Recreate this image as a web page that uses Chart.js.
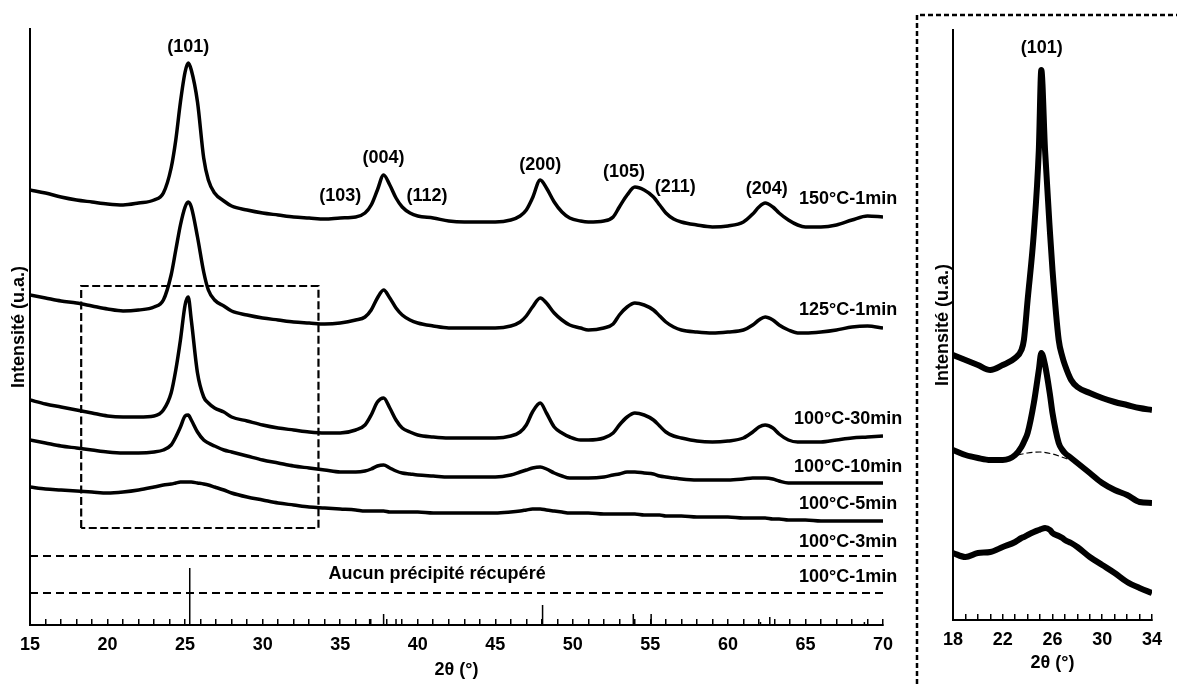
<!DOCTYPE html>
<html>
<head>
<meta charset="utf-8">
<script src="https://cdn.jsdelivr.net/npm/chart.js@4.4.1/dist/chart.umd.min.js"></script>
<style>
  body { margin: 0; background: #fff; }
  #wrap { position: relative; width: 1177px; height: 684px; overflow: hidden; }
  #mainChart { position: absolute; left: 0; top: 0; }
  #zoomChart { position: absolute; left: 912px; top: 0; }
</style>
</head>
<body>
<div id="wrap">
  <canvas id="mainChart" width="910" height="684"></canvas>
  <canvas id="zoomChart" width="265" height="684"></canvas>
</div>
<script>
// 2theta grid (degrees) shared by the main patterns
const twoTheta = [15,16,17,18,19,20,21,22,23,
  23.6,24.1,24.4,24.7,25.0,25.2,25.4,25.8,26.2,26.5,26.9,27.5,
  28,29,30,31,32,33,34,35,36,
  36.6,37.0,37.4,37.8,38.2,38.6,39.0,39.5,
  40,41,42,43,44,45,46,
  46.6,47.0,47.4,47.9,48.3,48.8,49.3,49.8,50.5,
  51,52,
  52.6,53.0,53.5,54.0,54.6,55.2,55.6,
  56,56.5,57,
  58,59,60,61,
  61.6,62.0,62.4,62.9,63.3,63.9,64.5,
  65,66,67,68,69,70];

// intensities (a.u., offset for stacking)
const i150_1 = [435,432,428,425,423,421,420,422,425,
  432,457,485,523,553,562,555,523,467,445,432,424,
  419,415,412,410,408,407,406,407,408,
  412,420,435,450,440,427,418,412,
  409,407,404,403,403,403,405,
  409,415,427,445,437,423,413,407,404,
  403,404,
  408,418,430,438,435,428,420,
  412,406,403,
  400,398,399,403,
  411,418,422,418,412,405,400,
  398,398,400,405,409,408];
const i125_1 = [330,327,324,322,319,316,314,315,318,
  325,350,375,400,418,423,418,388,353,335,325,319,
  314,310,307,305,303,302,301,302,305,
  308,315,327,335,327,317,310,305,
  302,299,297,297,297,297,299,
  303,309,318,327,322,312,305,300,297,
  295,297,
  301,310,318,322,320,315,309,
  303,298,295,
  293,292,293,295,
  300,305,308,305,300,295,292,
  292,293,295,298,299,297];
const i100_30 = [225,221,218,215,212,209,208,208,209,
  215,232,255,285,320,328,305,252,228,222,217,213,
  208,204,200,197,195,193,192,192,195,
  200,210,223,227,217,205,197,193,
  190,188,187,187,187,187,189,
  193,200,213,222,212,198,192,188,185,
  185,187,
  192,200,208,212,210,205,199,
  193,189,187,
  184,183,184,187,
  193,198,200,197,191,185,183,
  183,183,185,187,188,189];
const i100_10 = [185,182,179,177,175,173,172,172,173,
  175,180,188,198,209,210,205,193,185,182,179,175,
  173,169,165,162,159,157,155,153,153,
  154,156,159,160,157,154,152,151,
  150,149,148,148,148,148,150,
  153,155,157,158,156,152,149,147,147,
  147,148,
  150,151,153,153,152,151,149,
  148,147,146,
  145,145,145,146,
  147,147,147,146,144,142,142,
  142,142,142,142,142,142];
const i100_5 = [138,136,135,134,133,132,133,135,138,
  140,141,142,143,143,143,143,142,141,140,138,135,
  132,128,125,122,120,118,117,116,115,
  114,114,114,114,113,113,113,113,
  113,112,112,112,112,112,113,
  114,115,116,116,115,114,113,112,112,
  112,111,
  111,111,111,111,110,110,110,
  109,109,109,
  108,108,108,107,
  107,107,107,106,106,105,105,
  105,104,104,104,104,104];

// reference pattern (anatase) sticks
const refPos = [25.3,36.9,37.8,38.6,48.05,53.9,55.05,62.1,62.7,68.8];
const refInt = [57,6,11,6,20,11,11,3,8,3];

// empty rows (no precipitate) separators and zoom frame
const sepLevels = [69,32];
const boxTheta = [18.3,18.3,33.6,33.6,18.3];
const boxLevel = [97,339,339,97,97];

// annotations
const hklText = ['(101)','(103)','(004)','(112)','(200)','(105)','(211)','(204)'];
const hklTheta = [25.2,35.0,37.8,40.6,47.9,53.3,56.6,62.5];
const hklLevel = [578,429,467,429,460,453,438,436];
const sampleNames = ['150°C-1min','125°C-1min','100°C-30min','100°C-10min','100°C-5min','100°C-3min','100°C-1min'];
const sampleLevel = [426,315,206,158,121,83,48];
const sampleTheta = 67.75;

// zoom panel (18-34 deg)
const zoomTheta = [18,19,20,21,22,23,23.5,23.7,24,24.5,24.9,25.1,25.4,25.8,26,26.5,26.8,27,27.5,28,29,30,31,32,33,34];
const z100_30 = [265,260,255,250,255,262,270,280,320,387,470,550,470,387,350,280,263,255,240,233,227,222,218,215,212,210];
const z100_10 = [170,165,162,160,160,165,173,178,187,217,250,267,255,225,207,177,170,167,162,157,147,137,130,125,118,117];
const z100_5 = [67,63,67,68,73,78,82,83,85,88,90,91,92,90,87,84,82,80,77,73,63,55,47,38,32,27];
const baseTheta = [23.2,24,25,26,27.2];
const baseLevel = [165,167,168,166,161];

const FONT = "'Liberation Sans', Arial, sans-serif";
Chart.defaults.font.family = FONT;
Chart.defaults.font.weight = 'bold';
Chart.defaults.font.size = 18;
Chart.defaults.color = '#000';

const pts = (xs, ys) => xs.map((x, i) => ({x: x, y: ys[i]}));

function pattern(values, xs, width) {
  return {
    data: pts(xs, values),
    borderColor: '#000',
    borderWidth: width,
    pointRadius: 0,
    cubicInterpolationMode: 'monotone'
  };
}

function dashed(data, width, dash) {
  return {
    data: data,
    borderColor: '#000',
    borderWidth: width,
    borderDash: dash,
    pointRadius: 0,
    clip: false
  };
}

// sticks: vertical segments broken by null points
const stickData = [];
refPos.forEach((p, i) => {
  stickData.push({x: p, y: 0}, {x: p, y: refInt[i]}, {x: p, y: null});
});

const textLabels = {
  id: 'textLabels',
  afterDatasetsDraw(chart, args, opts) {
    const {ctx, scales: {x, y}} = chart;
    ctx.save();
    ctx.font = 'bold 18px ' + FONT;
    ctx.fillStyle = '#000';
    ctx.textAlign = 'center';
    ctx.textBaseline = 'middle';
    opts.items.forEach(it => {
      ctx.fillText(it.text, x.getPixelForValue(it.x), y.getPixelForValue(it.y));
    });
    ctx.restore();
  }
};

const panelFrame = {
  id: 'panelFrame',
  beforeDraw(chart) {
    const ctx = chart.ctx;
    ctx.save();
    ctx.strokeStyle = '#000';
    ctx.lineWidth = 2.5;
    ctx.setLineDash([5, 3]);
    ctx.beginPath();
    ctx.moveTo(5, 684);
    ctx.lineTo(5, 15);
    ctx.lineTo(265, 15);
    ctx.stroke();
    ctx.restore();
  }
};

function xAxis(min, max, labelEvery, height, titlePad) {
  return {
    type: 'linear',
    min: min,
    max: max,
    afterFit: s => { s.height = height; },
    ticks: {
      stepSize: 1,
      autoSkip: false,
      maxRotation: 0,
      padding: 15,
      font: {size: 18, weight: 'bold'},
      callback: v => ((v - min) % labelEvery === 0 ? v : '')
    },
    grid: {display: true, drawOnChartArea: false, tickLength: -6, color: '#000', lineWidth: 1.5},
    border: {display: true, color: '#000', width: 2},
    title: {display: true, text: '2θ (°)', font: {size: 18, weight: 'bold'}, padding: {top: 0, bottom: titlePad}}
  };
}

function yAxis(max, width, titlePad) {
  return {
    type: 'linear',
    min: 0,
    max: max,
    afterFit: s => { s.width = width; },
    ticks: {display: false},
    grid: {display: false, drawTicks: false},
    border: {display: true, color: '#000', width: 2},
    title: {display: true, text: 'Intensité (u.a.)', font: {size: 18, weight: 'bold'}, padding: {top: titlePad, bottom: 0}}
  };
}

const mainLabels = hklText.map((t, i) => ({text: t, x: hklTheta[i], y: hklLevel[i]}))
  .concat(sampleNames.map((t, i) => ({text: t, x: sampleTheta, y: sampleLevel[i]})))
  .concat([{text: 'Aucun précipité récupéré', x: 41.25, y: 51}]);

new Chart(document.getElementById('mainChart'), {
  type: 'line',
  data: {
    datasets: [
      pattern(i150_1, twoTheta, 3.5),
      pattern(i125_1, twoTheta, 3.5),
      pattern(i100_30, twoTheta, 3.5),
      pattern(i100_10, twoTheta, 3.5),
      pattern(i100_5, twoTheta, 3.5),
      {data: stickData, borderColor: '#000', borderWidth: 1.5, pointRadius: 0, spanGaps: false},
      dashed(pts([15, 70.3], [sepLevels[0], sepLevels[0]]), 1.8, [8, 5]),
      dashed(pts([15, 70.3], [sepLevels[1], sepLevels[1]]), 1.8, [8, 5]),
      dashed(pts(boxTheta, boxLevel), 2.2, [8, 3.5])
    ]
  },
  options: {
    responsive: false,
    animation: false,
    layout: {padding: {left: 0, top: 29, right: 27, bottom: 0}},
    scales: {
      x: xAxis(15, 70, 5, 59, 3),
      y: yAxis(596, 30, 8)
    },
    plugins: {
      legend: {display: false},
      tooltip: {enabled: false},
      textLabels: {items: mainLabels}
    }
  },
  plugins: [textLabels]
});

new Chart(document.getElementById('zoomChart'), {
  type: 'line',
  data: {
    datasets: [
      pattern(z100_30, zoomTheta, 6),
      pattern(z100_10, zoomTheta, 6),
      pattern(z100_5, zoomTheta, 6),
      Object.assign(dashed(pts(baseTheta, baseLevel), 1.2, [6, 3]), {cubicInterpolationMode: 'monotone'})
    ]
  },
  options: {
    responsive: false,
    animation: false,
    layout: {padding: {left: 0, top: 30, right: 22, bottom: 0}},
    scales: {
      x: xAxis(18, 34, 4, 64, 10),
      y: yAxis(590, 41, 20)
    },
    plugins: {
      legend: {display: false},
      tooltip: {enabled: false},
      textLabels: {items: [{text: '(101)', x: 25.13, y: 572}]}
    }
  },
  plugins: [textLabels, panelFrame]
});
</script>
</body>
</html>
